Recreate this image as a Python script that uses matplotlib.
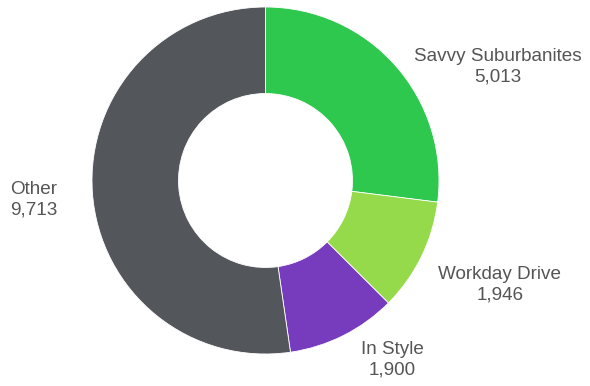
import matplotlib
matplotlib.use('Agg')
import matplotlib.pyplot as plt

labels = ['Savvy Suburbanites', 'Workday Drive', 'In Style', 'Other']
values = [5013, 1946, 1900, 9713]
colors = ['#2ec84e', '#95da4a', '#773bbd', '#53565a']

# label anchor points in pixel space (x, y from top) and alignment
label_pos = [(498, 67, 'center'), (500, 285, 'center'), (392, 360, 'center'), (10, 200, 'left')]

W, H = 590, 386


def main():
    plt.rcParams['font.family'] = ['Liberation Sans', 'DejaVu Sans']
    fig = plt.figure(figsize=(W / 100, H / 100), dpi=100)
    ax = fig.add_axes([0, 0, 1, 1])
    ax.pie(values, colors=colors, startangle=90, counterclock=False,
           center=(265.5, H - 180.5), radius=173.5,
           wedgeprops=dict(width=86.5, edgecolor='white', linewidth=0.6))
    ax.set_xlim(0, W)
    ax.set_ylim(0, H)
    ax.set_aspect('equal')
    ax.axis('off')

    for lab, val, (x, y, ha) in zip(labels, values, label_pos):
        ax.text(x, H - y, f'{lab}\n{val:,}', ha=ha, va='center', color='#555555',
                fontsize=13.6, linespacing=1.3)

    fig.savefig('out.png', dpi=100)


if __name__ == "__main__":
    main()
